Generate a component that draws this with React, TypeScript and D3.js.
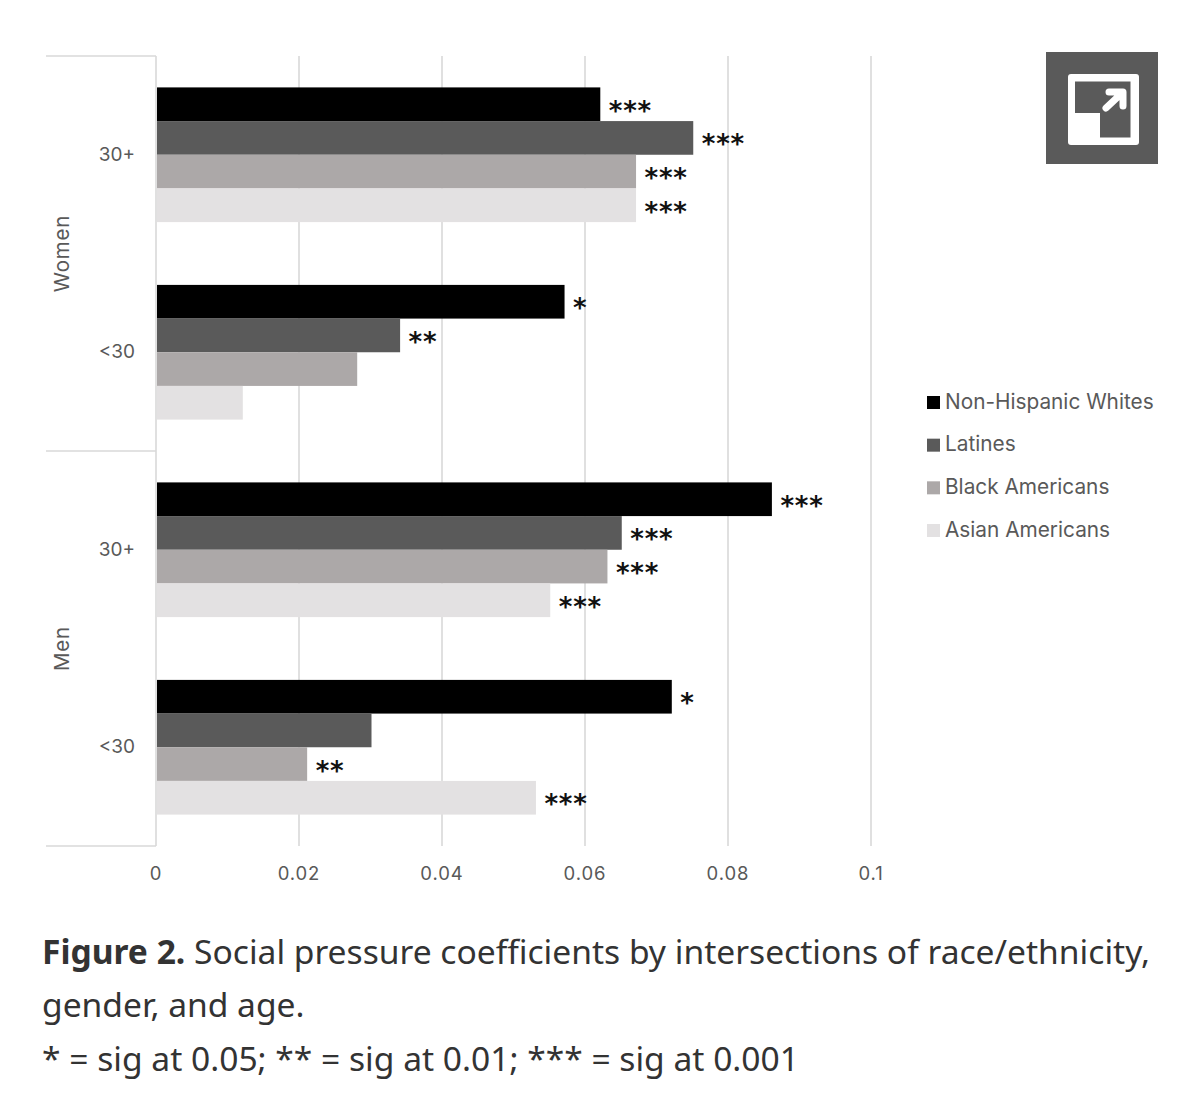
import React from 'react';
import * as d3 from 'd3';

const WIDTH = 1200;
const HEIGHT = 1111;

const groups = ['Women 30+', 'Women <30', 'Men 30+', 'Men <30'];
const ageLabels = ['30+', '<30', '30+', '<30'];
const genders = ['Women', 'Men'];
const seriesNames = ['Non-Hispanic Whites', 'Latines', 'Black Americans', 'Asian Americans'];
const seriesColors = ['#000000', '#5a5a5a', '#aca8a8', '#e3e1e2'];

const whites = [0.062, 0.057, 0.086, 0.072];
const latines = [0.075, 0.034, 0.065, 0.03];
const black = [0.067, 0.028, 0.063, 0.021];
const asian = [0.067, 0.012, 0.055, 0.053];
const seriesValues = [whites, latines, black, asian];

const whitesSig = ['***', '*', '***', '*'];
const latinesSig = ['***', '**', '***', ''];
const blackSig = ['***', '', '***', '**'];
const asianSig = ['***', '', '***', '***'];
const seriesSig = [whitesSig, latinesSig, blackSig, asianSig];

const xTicks = [0, 0.02, 0.04, 0.06, 0.08, 0.1];

const UI_FONT = 'Inter, "Noto Sans", sans-serif';
const CAPTION_FONT = '"Noto Sans", sans-serif';
const GRID = '#d9d9d9';
const TEXT = '#595959';

export default function App() {
  const top = 56;
  const bottom = 846;
  const left = 156;
  const right = 871;
  const labelLeft = 46;

  const x = d3.scaleLinear().domain([0, 0.1]).range([left, right]);
  const y = d3
    .scaleBand()
    .domain(groups)
    .range([top, bottom])
    .paddingInner(0.318)
    .paddingOuter(0.159);
  const inner = d3
    .scaleBand()
    .domain(seriesNames)
    .range([0, y.bandwidth()]);
  const gender = d3.scaleBand().domain(genders).range([top, bottom]);
  const legendY = d3
    .scalePoint()
    .domain(seriesNames)
    .range([402, 530]);

  return (
    <svg
      width={WIDTH}
      height={HEIGHT}
      viewBox={`0 0 ${WIDTH} ${HEIGHT}`}
      style={{ position: 'absolute', left: 0, top: 0, background: '#fff' }}
    >
      {/* grid */}
      {xTicks.map(t => (
        <g key={t}>
          <line x1={x(t)} x2={x(t)} y1={top} y2={bottom} stroke={GRID} strokeWidth={1.6} />
          <text
            x={x(t)}
            y={880}
            textAnchor="middle"
            fontFamily={UI_FONT}
            fontSize={18.5}
            letterSpacing={0.9}
            fill={TEXT}
          >
            {t}
          </text>
        </g>
      ))}

      {/* group separators */}
      {[top, (top + bottom) / 2, bottom].map(v => (
        <line key={v} x1={labelLeft} x2={left} y1={v} y2={v} stroke={GRID} strokeWidth={1.6} />
      ))}

      {/* bars */}
      {groups.map((g, gi) => (
        <g key={g} transform={`translate(0, ${y(g)})`}>
          {seriesNames.map((s, si) => {
            const v = seriesValues[si][gi];
            return (
              <g key={s}>
                <rect
                  x={x(0) + 1}
                  y={inner(s)}
                  width={x(v) - x(0)}
                  height={inner.bandwidth()}
                  fill={seriesColors[si]}
                />
                <text
                  x={x(v) + 9.5}
                  y={(inner(s) as number) + inner.bandwidth() / 2 + 15.5}
                  fontFamily='"DejaVu Sans", sans-serif'
                  fontWeight={700}
                  fontSize={26}
                  letterSpacing={0.8}
                  fill="#111"
                >
                  {seriesSig[si][gi]}
                </text>
              </g>
            );
          })}
        </g>
      ))}

      {/* age labels */}
      {groups.map((g, gi) => (
        <text
          key={g}
          x={135}
          y={(y(g) as number) + y.bandwidth() / 2 + 6}
          textAnchor="end"
          fontFamily={UI_FONT}
          fontSize={19}
          fill={TEXT}
        >
          {ageLabels[gi]}
        </text>
      ))}

      {/* gender labels */}
      {genders.map(g => (
        <text
          key={g}
          transform={`translate(69, ${(gender(g) as number) + gender.bandwidth() / 2}) rotate(-90)`}
          textAnchor="middle"
          fontFamily={UI_FONT}
          fontSize={20.5}
          letterSpacing={0.8}
          fill={TEXT}
        >
          {g}
        </text>
      ))}

      {/* legend */}
      {seriesNames.map((s, si) => (
        <g key={s} transform={`translate(927, ${legendY(s)})`}>
          <rect x={0} y={-6} width={13} height={13} fill={seriesColors[si]} />
          <text x={18} y={6.5} fontFamily={UI_FONT} fontSize={20.8} fill={TEXT}>
            {s}
          </text>
        </g>
      ))}

      {/* expand icon */}
      <rect x={1046} y={52} width={112} height={112} fill="#5a5a5a" />
      <rect x={1068} y={74} width={71} height={71} rx={3} fill="#fff" />
      <path d="M1075 81.5H1130.5V137.5H1100V113H1075Z" fill="#5a5a5a" />
      <path
        d="M1109 92H1123V106M1122 93L1106 108"
        fill="none"
        stroke="#fff"
        strokeWidth={7}
        strokeLinecap="round"
        strokeLinejoin="round"
      />

      {/* caption */}
      <text x={42} y={964} fontFamily={CAPTION_FONT} fontSize={33.6} fill="#333">
        <tspan fontWeight={700}>Figure 2.</tspan> Social pressure coefficients by intersections of race/ethnicity,
      </text>
      <text x={42} y={1017} fontFamily={CAPTION_FONT} fontSize={33.6} fill="#333">
        gender, and age.
      </text>
      <text x={42} y={1071} fontFamily={CAPTION_FONT} fontSize={33.6} fill="#333">
        * = sig at 0.05; ** = sig at 0.01; *** = sig at 0.001
      </text>
    </svg>
  );
}
